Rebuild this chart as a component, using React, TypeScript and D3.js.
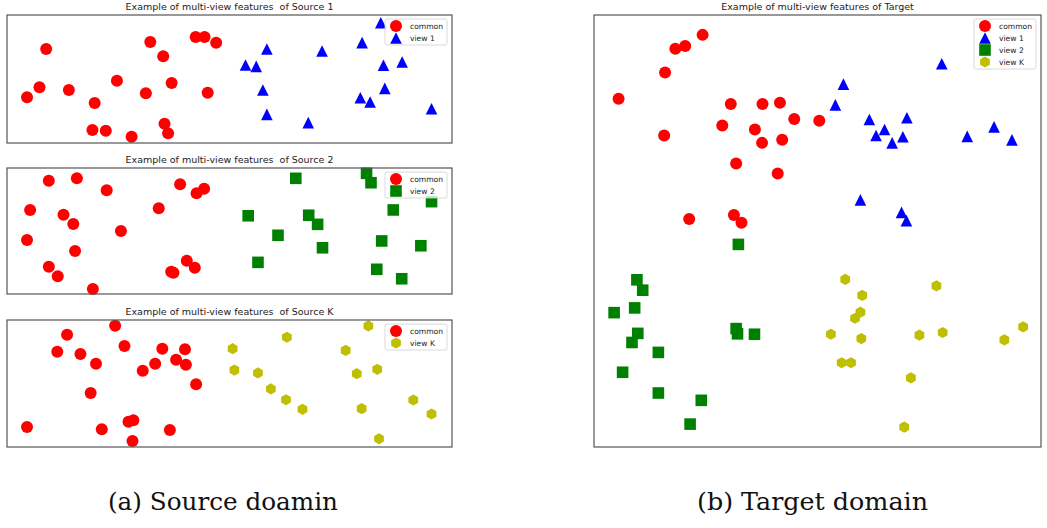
import React from "react";
import * as d3 from "d3";

type Pt = [number, number];

// ---- Source 1 ----
const src1Common: Pt[] = [
  [8.8, 73.4], [7.3, 43.5], [4.5, 35.7], [13.9, 41.4], [19.7, 31.3], [24.7, 48.7],
  [32.2, 78.9], [35.1, 67.7], [31.2, 38.8], [37.0, 46.9], [42.4, 82.8], [44.4, 82.8],
  [47.0, 78.4], [45.1, 39.3], [19.2, 10.2], [22.2, 9.6], [28.0, 4.9], [35.4, 15.1],
  [36.2, 7.6],
];
const src1View1: Pt[] = [
  [84.0, 94.0], [79.8, 78.4], [58.4, 73.4], [70.8, 71.9], [53.6, 60.9], [56.0, 59.9],
  [84.6, 60.7], [88.8, 63.3], [57.5, 41.4], [84.9, 42.7], [79.4, 35.4], [81.6, 32.0],
  [58.4, 22.4], [67.7, 15.9], [95.4, 26.8],
];

// ---- Source 2 ----
const src2Common: Pt[] = [
  [9.4, 89.9], [15.7, 91.8], [22.4, 82.3], [5.2, 66.7], [12.7, 62.9], [14.9, 55.6],
  [4.5, 42.9], [15.3, 34.1], [25.6, 50.0], [9.4, 21.7], [11.4, 14.0], [19.3, 4.0],
  [38.9, 87.1], [42.6, 79.9], [44.3, 83.6], [34.1, 68.0], [40.4, 26.4], [42.2, 20.9],
  [36.9, 17.7], [37.4, 16.9],
];
const src2View2: Pt[] = [
  [64.9, 91.8], [80.8, 95.8], [81.8, 88.3], [54.2, 62.1], [67.8, 62.5], [69.8, 55.3],
  [60.9, 46.6], [70.9, 36.7], [56.4, 25.1], [86.8, 66.7], [95.4, 73.3], [84.2, 42.1],
  [93.0, 38.3], [83.1, 19.6], [88.7, 12.1],
];

// ---- Source K ----
const srcKCommon: Pt[] = [
  [24.3, 95.5], [13.5, 88.4], [11.3, 75.0], [16.5, 73.2], [20.0, 65.6], [26.4, 79.5],
  [34.9, 77.4], [40.0, 76.9], [38.0, 68.7], [40.2, 64.8], [33.3, 65.6], [30.5, 60.1],
  [42.5, 49.4], [18.8, 42.5], [4.5, 15.7], [21.3, 13.9], [27.3, 19.9], [28.4, 21.0],
  [28.2, 4.7], [36.6, 13.4],
];
const srcKViewK: Pt[] = [
  [62.9, 86.4], [81.2, 95.3], [50.7, 77.4], [76.1, 76.1], [51.1, 60.6], [56.4, 58.3],
  [78.6, 57.7], [83.2, 61.2], [59.3, 45.7], [62.7, 37.2], [66.4, 29.7], [79.7, 30.2],
  [91.3, 37.0], [95.4, 26.0], [83.6, 6.5],
];

// ---- Target ----
const tgtCommon: Pt[] = [
  [24.3, 95.4], [18.2, 92.2], [20.4, 92.8], [15.9, 86.7], [5.5, 80.6], [30.6, 79.4],
  [37.7, 79.4], [41.6, 79.7], [44.8, 75.9], [50.4, 75.5], [28.7, 74.4], [36.0, 73.5],
  [15.7, 72.1], [37.6, 70.4], [42.1, 71.1], [31.8, 65.6], [41.1, 63.3], [21.3, 52.8],
  [31.3, 53.7], [33.0, 51.9],
];
const tgtView1: Pt[] = [
  [77.8, 88.7], [55.8, 84.0], [54.0, 79.2], [61.6, 75.8], [70.0, 76.2], [65.0, 73.5],
  [63.1, 72.1], [66.7, 70.4], [69.1, 71.8], [83.5, 71.9], [89.5, 74.1], [93.5, 71.1],
  [59.6, 57.2], [68.8, 54.3], [69.9, 52.4],
];
const tgtView2: Pt[] = [
  [32.3, 46.9], [9.6, 38.7], [10.9, 36.3], [9.1, 32.2], [4.5, 31.1], [9.8, 26.3],
  [8.5, 24.2], [31.8, 27.4], [32.1, 26.2], [35.9, 26.1], [14.4, 21.9], [6.4, 17.3],
  [14.4, 12.5], [24.0, 10.8], [21.5, 5.3],
];
const tgtViewK: Pt[] = [
  [56.2, 38.8], [76.6, 37.3], [60.0, 35.1], [59.6, 31.2], [58.4, 29.8], [53.0, 26.1],
  [59.8, 25.1], [72.8, 25.9], [78.0, 26.5], [96.0, 27.8], [91.8, 24.8], [55.4, 19.5],
  [57.5, 19.5], [70.9, 16.0], [69.4, 4.6],
];

const titles = [
  "Example of multi-view features  of Source 1",
  "Example of multi-view features  of Source 2",
  "Example of multi-view features  of Source K",
  "Example of multi-view features of Target",
];
const captions = ["(a) Source doamin", "(b) Target domain"];

type Kind = "circle" | "triangle" | "square" | "hexagon";
const COLORS: Record<Kind, string> = {
  circle: "#ff0000",
  triangle: "#0000ff",
  square: "#008000",
  hexagon: "#bfbf00",
};
const LABELS: Record<Kind, string> = {
  circle: "common",
  triangle: "view 1",
  square: "view 2",
  hexagon: "view K",
};

const SERIF = "'DejaVu Serif', serif";
const SANS = "'DejaVu Sans', sans-serif";

function markerPath(kind: Kind): string {
  const r = 5.8;
  if (kind === "circle") return d3.symbol(d3.symbolCircle, Math.PI * 6 * 6)() as string;
  if (kind === "square") return `M${-r},${-r}H${r}V${r}H${-r}Z`;
  if (kind === "triangle") return `M0,${-r}L${r},${r}L${-r},${r}Z`;
  const pts = d3.range(6).map((i) => {
    const a = -Math.PI / 2 + (i * Math.PI) / 3;
    return [Math.cos(a) * 5.6, Math.sin(a) * 5.6] as [number, number];
  });
  return (d3.line()(pts) as string) + "Z";
}

interface PanelSpec {
  left: number;
  right: number;
  top: number;
  bottom: number;
  title: string;
  series: { kind: Kind; data: Pt[] }[];
}

const panels: PanelSpec[] = [
  { left: 7, right: 452, top: 15, bottom: 143, title: titles[0],
    series: [{ kind: "circle", data: src1Common }, { kind: "triangle", data: src1View1 }] },
  { left: 7, right: 452, top: 168, bottom: 294, title: titles[1],
    series: [{ kind: "circle", data: src2Common }, { kind: "square", data: src2View2 }] },
  { left: 7, right: 452, top: 320, bottom: 447, title: titles[2],
    series: [{ kind: "circle", data: srcKCommon }, { kind: "hexagon", data: srcKViewK }] },
  { left: 594, right: 1041, top: 15, bottom: 447, title: titles[3],
    series: [
      { kind: "circle", data: tgtCommon },
      { kind: "triangle", data: tgtView1 },
      { kind: "square", data: tgtView2 },
      { kind: "hexagon", data: tgtViewK },
    ] },
];

const Panel: React.FC<{ p: PanelSpec }> = ({ p }) => {
  const x = d3.scaleLinear().domain([0, 100]).range([p.left, p.right]);
  const y = d3.scaleLinear().domain([0, 100]).range([p.bottom, p.top]);
  const legW = 62;
  const legH = 2 + p.series.length * 12;
  const legX = p.right - 5 - legW;
  const legY = p.top + 4;
  return (
    <g>
      <text
        x={(p.left + p.right) / 2}
        y={p.top - 5}
        textAnchor="middle"
        fontFamily={SANS}
        fontSize={9.5}
        fill="#222"
        style={{ whiteSpace: "pre" }}
      >
        {p.title}
      </text>
      {p.series.map((s) => {
        const d = markerPath(s.kind);
        return (
          <g key={s.kind}>
            {s.data.map(([vx, vy], i) => (
              <path key={i} d={d} transform={`translate(${x(vx)},${y(vy)})`} fill={COLORS[s.kind]} />
            ))}
          </g>
        );
      })}
      <rect
        x={p.left}
        y={p.top}
        width={p.right - p.left}
        height={p.bottom - p.top}
        fill="none"
        stroke="#555"
        strokeWidth={1.2}
      />
      <g>
        <rect
          x={legX}
          y={legY}
          width={legW}
          height={legH}
          rx={2}
          fill="white"
          fillOpacity={0.8}
          stroke="#d0d0d0"
          strokeWidth={0.8}
        />
        {p.series.map((s, i) => {
          const cy = legY + 7 + i * 12;
          return (
            <g key={s.kind}>
              <path d={markerPath(s.kind)} transform={`translate(${legX + 11},${cy})`} fill={COLORS[s.kind]} />
              <text
                x={legX + 25}
                y={cy}
                dominantBaseline="central"
                fontFamily={SANS}
                fontSize={7.6}
                fill="#222"
              >
                {LABELS[s.kind]}
              </text>
            </g>
          );
        })}
      </g>
    </g>
  );
};

export default function App() {
  return (
    <svg
      width={1047}
      height={528}
      style={{ position: "absolute", left: 0, top: 0, background: "white" }}
    >
      <rect x={0} y={0} width={1047} height={528} fill="white" />
      {panels.map((p, i) => (
        <Panel key={i} p={p} />
      ))}
      <text
        x={223}
        y={510}
        textAnchor="middle"
        fontFamily={SERIF}
        fontSize={24}
        textLength={230}
        lengthAdjust="spacingAndGlyphs"
        fill="#111"
      >
        {captions[0]}
      </text>
      <text
        x={812.5}
        y={510}
        textAnchor="middle"
        fontFamily={SERIF}
        fontSize={24}
        textLength={231}
        lengthAdjust="spacingAndGlyphs"
        fill="#111"
      >
        {captions[1]}
      </text>
    </svg>
  );
}
